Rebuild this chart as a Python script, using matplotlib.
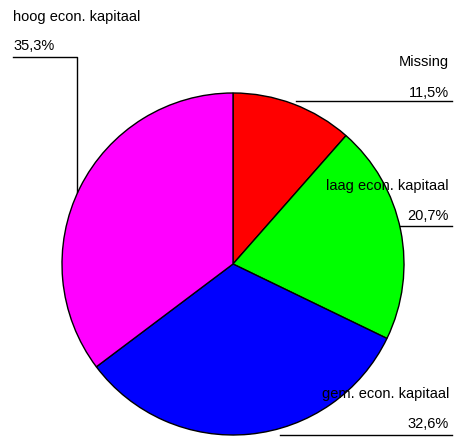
import matplotlib
matplotlib.use('agg')
import matplotlib.pyplot as plt

categories = ['Missing', 'laag econ. kapitaal', 'gem. econ. kapitaal', 'hoog econ. kapitaal']
percentages = [11.5, 20.7, 32.6, 35.3]
pct_labels = ['11,5%', '20,7%', '32,6%', '35,3%']
colors = ['#ff0000', '#00ff00', '#0000ff', '#ff00ff']

W, H = 454, 437
plt.rcParams['font.family'] = ['Liberation Sans', 'DejaVu Sans']

fig = plt.figure(figsize=(W / 100, H / 100), dpi=100)
ax = fig.add_axes([0, 0, 1, 1])

cx, cy, r = 233, H - 264, 171
ax.pie(percentages, colors=colors, startangle=90, counterclock=False,
       center=(cx, cy), radius=r, frame=True,
       wedgeprops=dict(edgecolor='black', linewidth=1))
ax.set_xlim(0, W)
ax.set_ylim(0, H)
ax.set_aspect('equal')
ax.axis('off')

def py(y):
    return H - y

fs = 10.5
# Missing (right side)
ax.text(449, py(62), categories[0], ha='right', va='center', fontsize=fs)
ax.text(449, py(93), pct_labels[0], ha='right', va='center', fontsize=fs)
ax.plot([296, 452], [py(101), py(101)], color='black', lw=1)
# laag
ax.text(449, py(186), categories[1], ha='right', va='center', fontsize=fs)
ax.text(449, py(216), pct_labels[1], ha='right', va='center', fontsize=fs)
ax.plot([400, 452], [py(226), py(226)], color='black', lw=1)
# gem
ax.text(449, py(394), categories[2], ha='right', va='center', fontsize=fs)
ax.text(449, py(424), pct_labels[2], ha='right', va='center', fontsize=fs)
ax.plot([280, 452], [py(435), py(435)], color='black', lw=1)
# hoog (left side)
ax.text(13, py(17), categories[3], ha='left', va='center', fontsize=fs)
ax.text(13, py(46), pct_labels[3], ha='left', va='center', fontsize=fs)
ax.plot([13, 77, 77], [py(57), py(57), py(192)], color='black', lw=1)

fig.savefig('out.png', dpi=100)
